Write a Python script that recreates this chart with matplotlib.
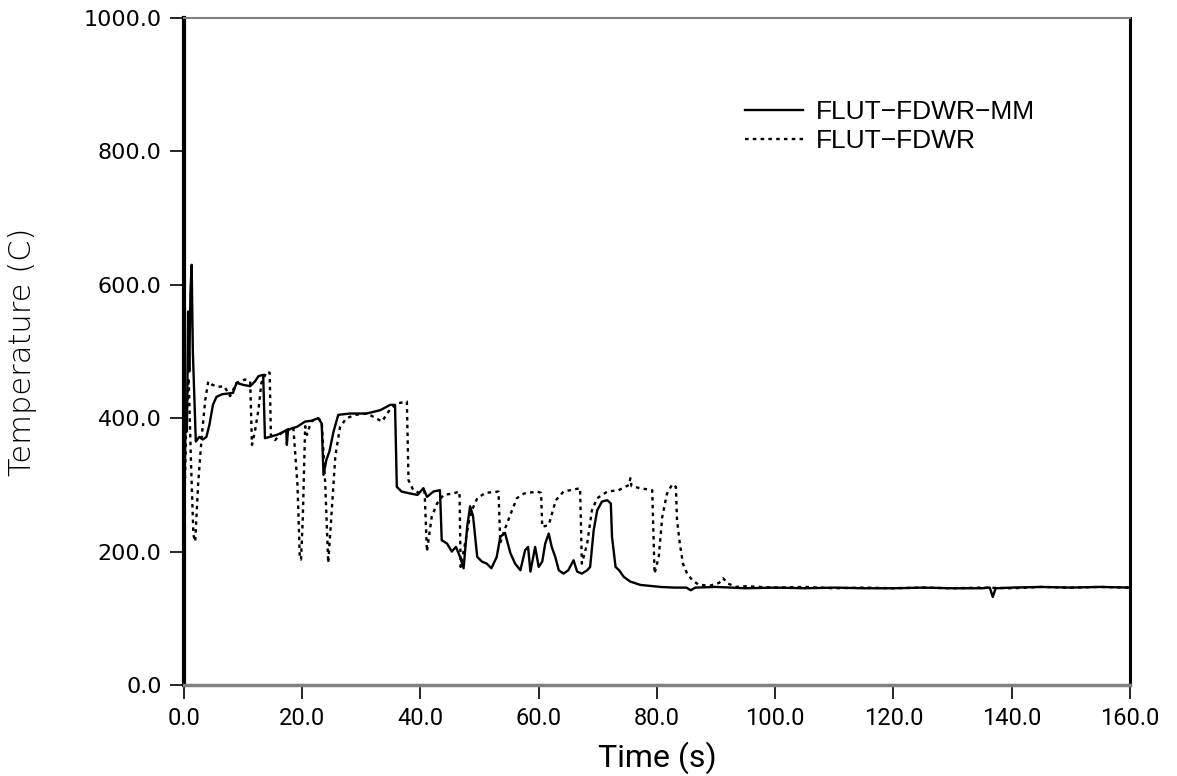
import matplotlib
matplotlib.use("Agg")
import matplotlib.pyplot as plt

# FLUT-FDWR-MM (solid)
mm_time = [0.0, 0.3, 0.5, 0.7, 0.9, 1.1, 1.3, 1.5, 1.8, 2.0, 2.6, 3.2, 3.8, 4.3, 4.9,
           5.5, 6.5, 7.5, 8.3, 8.9, 10.0, 11.2, 12.0, 12.6, 13.4, 13.7, 14.5, 15.7, 16.5,
           17.3, 17.4, 17.6, 18.3, 19.1, 20.5, 21.5, 22.7, 23.3, 23.6, 24.1, 24.6, 25.3,
           26.1, 28.1, 30.9, 33.2, 34.9, 35.7, 36.0, 36.8, 38.3, 39.5, 40.5, 41.1, 42.2,
           43.3, 43.6, 44.5, 45.3, 46.0, 46.7, 47.3, 47.9, 48.4, 48.9, 49.6, 50.4, 51.2,
           52.0, 52.9, 53.5, 54.3, 55.2, 56.0, 56.9, 57.7, 58.2, 58.6, 59.4, 60.0, 60.6,
           61.1, 61.7, 62.2, 62.8, 63.4, 64.2, 65.0, 65.9, 66.5, 67.3, 68.2, 68.7, 69.3,
           69.9, 70.7, 71.6, 72.2, 72.4, 73.0, 73.6, 74.4, 75.5, 77.2, 80.6, 82.9, 85.0,
           85.7, 86.5, 90.0, 95.0, 100.0, 105.0, 110.0, 115.0, 120.0, 125.0, 130.0,
           135.0, 136.3, 136.8, 137.3, 140.0, 145.0, 150.0, 155.0, 160.0]
mm_temp = [235, 420, 380, 560, 470, 590, 630, 500, 420, 365, 372, 368, 372, 390, 420,
           432, 436, 437, 438, 453, 450, 448, 455, 463, 465, 370, 372, 375, 378,
           382, 360, 382, 385, 387, 395, 396, 400, 392, 315, 338, 350, 380,
           405, 407, 407, 412, 420, 420, 297, 290, 287, 285, 295, 282, 290,
           292, 217, 212, 200, 207, 192, 175, 237, 268, 253, 192, 185, 182,
           175, 192, 222, 228, 198, 182, 172, 202, 207, 170, 207, 177, 185,
           212, 227, 207, 192, 172, 167, 172, 187, 170, 167, 172, 177, 232,
           262, 275, 277, 272, 222, 177, 172, 162, 155, 150, 147, 146, 146,
           142, 146, 147, 145, 146, 145, 146, 145, 145, 146, 145,
           145, 146, 132, 145, 146, 147, 146, 147, 146]

# FLUT-FDWR (dotted)
fdwr_time = [0.0, 0.4, 0.8, 1.2, 1.6, 1.9, 2.4, 3.0, 3.6, 4.1, 4.8, 5.8, 6.8, 7.8, 8.9,
             10.3, 11.2, 11.5, 12.0, 12.6, 13.1, 14.0, 14.5, 14.7, 15.4, 16.5, 17.5,
             18.5, 19.2, 19.6, 19.8, 20.1, 20.5, 20.8, 21.5, 22.7, 23.3, 23.9, 24.4,
             25.0, 25.6, 26.4, 27.5, 29.0, 31.0, 33.5, 34.6, 36.0, 37.7, 37.98, 38.8,
             40.0, 40.7, 41.1, 41.9, 42.8, 43.9, 45.5, 46.6, 46.8, 47.5, 48.2, 48.7,
             49.6, 51.0, 53.2, 53.5, 54.2, 55.5, 56.3, 57.5, 59.7, 60.4, 60.6, 61.7,
             62.9, 64.2, 67.0, 67.3, 68.2, 69.0, 69.9, 71.6, 73.5, 75.3, 75.5, 75.7,
             77.2, 79.2, 79.6, 80.3, 80.9, 81.7, 82.6, 83.2, 83.4, 83.9, 84.4, 85.1,
             86.0, 87.1, 89.0, 90.5, 91.2, 92.0, 93.5, 95.0, 100.0, 105.0, 110.0,
             115.0, 120.0, 125.0, 130.0, 135.0, 140.0, 145.0, 150.0, 155.0, 160.0]
fdwr_temp = [240, 400, 460, 330, 225, 215, 302, 372, 427, 455, 450, 447, 448, 433, 453,
             458, 455, 360, 380, 413, 453, 470, 468, 375, 367, 378, 383,
             386, 300, 190, 188, 250, 388, 375, 395, 400, 395, 300, 183,
             262, 343, 387, 400, 405, 407, 395, 410, 422, 425, 307, 292,
             287, 290, 200, 252, 272, 285, 287, 290, 177, 210, 245, 262,
             280, 288, 290, 213, 232, 262, 280, 287, 290, 288, 237, 240,
             277, 290, 295, 182, 212, 262, 280, 290, 292, 300, 310, 298,
             295, 292, 167, 192, 252, 287, 301, 297, 247, 210, 182, 167,
             157, 150, 149, 153, 160, 152, 147, 148, 146, 147, 145,
             146, 145, 146, 145, 146, 145, 147, 146, 147, 146]

x_ticks = [0, 20, 40, 60, 80, 100, 120, 140, 160]
y_ticks = [0, 200, 400, 600, 800, 1000]

narrow = ["Roboto", "DejaVu Sans"]
helv = ["Liberation Sans", "DejaVu Sans"]

fig = plt.figure(figsize=(11.77, 7.76), dpi=100)
ax = fig.add_axes([0.1563, 0.1173, 0.8037, 0.8595])

ax.plot(mm_time, mm_temp, color="black", lw=1.7, label="FLUT\u2212FDWR\u2212MM")
ax.plot(fdwr_time, fdwr_temp, color="black", lw=1.7, linestyle=(0, (1.5, 1.8)),
        label="FLUT\u2212FDWR")

ax.set_xlim(0, 160)
ax.set_ylim(0, 1000)
ax.set_xticks(x_ticks)
ax.set_xticklabels([f"{v:.1f}" for v in x_ticks], family=narrow, fontsize=17)
ax.set_yticks(y_ticks)
ax.set_yticklabels([f"{v:.1f}" for v in y_ticks], fontsize=16)
ax.tick_params(axis="both", direction="out", length=10, width=1.2, pad=6)

ax.spines["left"].set_linewidth(3)
ax.spines["right"].set_linewidth(2.2)
ax.spines["top"].set_color("#808080")
ax.spines["top"].set_linewidth(1.5)
ax.spines["bottom"].set_color("#808080")
ax.spines["bottom"].set_linewidth(2.5)

ax.set_xlabel("Time (s)", fontsize=23, family=narrow)
ax.set_ylabel("Temperature (C)", fontsize=22, fontweight="light")
ax.xaxis.set_label_coords(0.5, -0.085)
ax.yaxis.set_label_coords(-0.155, 0.5)

leg = ax.legend(loc="upper left", bbox_to_anchor=(0.579, 0.897), frameon=False,
                prop={"family": helv, "size": 19}, handlelength=2.2,
                handletextpad=0.5, labelspacing=0.2, borderpad=0)

fig.savefig("out.png", dpi=100)
